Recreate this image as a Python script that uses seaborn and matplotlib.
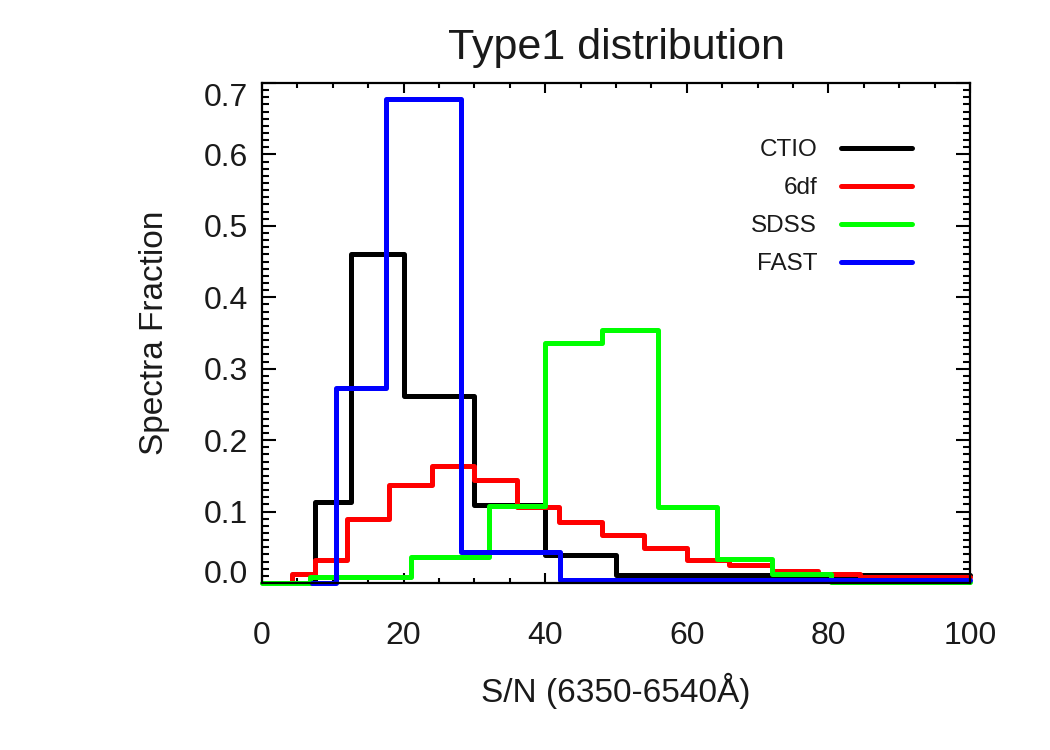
import matplotlib
matplotlib.use("Agg")
import matplotlib.pyplot as plt
from matplotlib.ticker import MultipleLocator
import seaborn as sns
import pandas as pd
import numpy as np

#%% data (step edges along S/N and the fraction in each step)

surveys = ["CTIO", "6df", "SDSS", "FAST"]
colors = ["black", "#ff0000", "#00ff00", "#0000ff"]

ctio_edges = [5, 7.5, 12.5, 20, 30, 40, 50, 100]
ctio_frac = [0.0, 0.114, 0.46, 0.262, 0.109, 0.039, 0.011]

df6_edges = [3, 4.3, 7.5, 12, 18, 24, 30, 36, 42, 48, 54, 60, 66, 72, 78.5, 84.5, 100]
df6_frac = [0.0, 0.012, 0.032, 0.089, 0.137, 0.164, 0.144, 0.107, 0.086, 0.067,
            0.049, 0.032, 0.025, 0.017, 0.012, 0.009]

sdss_edges = [0, 6.8, 21, 32, 40, 48, 56, 64.2, 72.1, 80.4, 100]
sdss_frac = [0.0, 0.008, 0.037, 0.108, 0.336, 0.354, 0.106, 0.034, 0.013, 0.002]

fast_edges = [7, 10.5, 17.5, 28.1, 42.1, 100]
fast_frac = [0.0, 0.273, 0.678, 0.044, 0.004]

xticks = [0, 20, 40, 60, 80, 100]
yticks = [0.0, 0.1, 0.2, 0.3, 0.4, 0.5, 0.6, 0.7]

#%% long table for seaborn

rows = []
for name, edges, frac in zip(surveys,
                             [ctio_edges, df6_edges, sdss_edges, fast_edges],
                             [ctio_frac, df6_frac, sdss_frac, fast_frac]):
    vals = list(frac) + [frac[-1]]   # repeat last value so the last step is drawn
    for e, v in zip(edges, vals):
        rows.append({"survey": name, "sn": e, "fraction": v})
df = pd.DataFrame(rows)

#%% plotting

sns.set_style("ticks")
plt.rcParams['font.family'] = ['Liberation Sans', 'DejaVu Sans']
plt.rcParams['text.color'] = '#1a1a1a'
plt.rcParams['axes.labelcolor'] = '#1a1a1a'
plt.rcParams['xtick.color'] = 'black'
plt.rcParams['ytick.color'] = 'black'
plt.rcParams['xtick.labelcolor'] = '#1a1a1a'
plt.rcParams['ytick.labelcolor'] = '#1a1a1a'

fig = plt.figure(figsize=(10.5, 7.5), dpi=100)
ax = fig.add_axes([262/1050, 1 - 583/750, 708/1050, 500/750])

sns.lineplot(data=df, x="sn", y="fraction", hue="survey", hue_order=surveys,
             palette=dict(zip(surveys, colors)), drawstyle="steps-post",
             estimator=None, sort=False, linewidth=3.6, clip_on=False,
             ax=ax)

ax.set_xlim(0, 100)
ax.set_ylim(0, 0.7)
ax.set_xticks(xticks)
ax.set_xticklabels([str(t) for t in xticks])
ax.set_yticks(yticks)
ax.set_yticklabels(["{:.1f}".format(t) for t in yticks])
ax.xaxis.set_minor_locator(MultipleLocator(5))
ax.yaxis.set_minor_locator(MultipleLocator(0.01))

for s in ax.spines.values():
    s.set_visible(True)
    s.set_linewidth(1.6)
    s.set_color("black")

ax.tick_params(axis="x", which="major", direction="in", top=True, length=7.2, width=1.5,
               labelsize=23, pad=27)
ax.tick_params(axis="x", which="minor", direction="in", top=True, length=3.6, width=1.5)
ax.tick_params(axis="y", which="major", direction="in", right=True, length=10, width=1.5,
               labelsize=23, pad=10)
ax.tick_params(axis="y", which="minor", direction="in", right=True, length=5, width=1.5)

# end labels sit inside the axis range, as in the original
ylabs = ax.get_yticklabels()
ylabs[0].set_va("baseline")
ylabs[-1].set_va("top")

ax.set_xlabel("S/N (6350-6540Å)", fontsize=24, labelpad=16)
ax.set_ylabel("Spectra Fraction", fontsize=24, labelpad=24)
ax.set_title("Type1 distribution", fontsize=31, pad=17)

leg = ax.legend(loc="upper right", bbox_to_anchor=(0.918, 0.888), frameon=False,
                markerfirst=False, fontsize=17.5, handlelength=2.9, handletextpad=1.0,
                labelspacing=0.66, borderpad=0, borderaxespad=0)
for line in leg.get_lines():
    line.set_linewidth(3.6)

fig.savefig("out.png", dpi=100)
